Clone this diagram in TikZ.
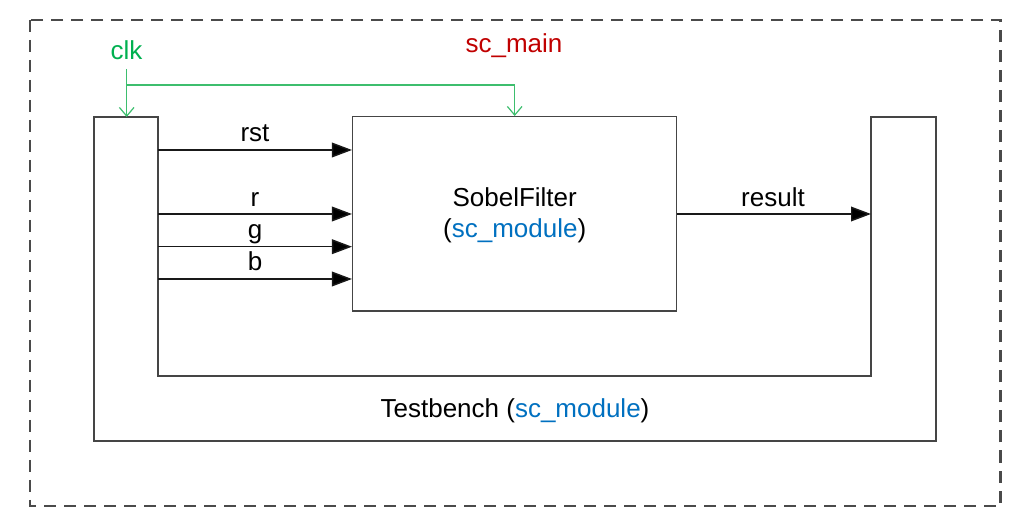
\documentclass[tikz,border=0pt]{standalone}
\usepackage{fontspec}
\setmainfont{Liberation Sans}
\usetikzlibrary{arrows.meta}
\definecolor{boxgray}{HTML}{454545}
\definecolor{dashgray}{HTML}{4A4A4A}
\definecolor{clkgreen}{HTML}{00B050}
\definecolor{clkline}{HTML}{3DBE6E}
\definecolor{mainred}{HTML}{C00000}
\definecolor{modblue}{HTML}{0070C0}
\tikzset{
  boxline/.style={draw=boxgray, line width=1.1pt},
  sig/.style={draw=black!90, line width=1.1pt, -{Triangle[length=15pt,width=11pt,fill=black]}},
  clksig/.style={draw=clkline, line width=0.9pt},
  clkarrow/.style={clksig, -{Straight Barb[length=6.5pt,width=11pt,line width=0.9pt]}},
  lbl/.style={font=\fontsize{19.5}{23}\selectfont, inner sep=0pt, anchor=base},
}
\begin{document}
\begin{tikzpicture}[x=0.75pt,y=-0.75pt]
\useasboundingbox (0,0) rectangle (1022,527);
% outer dashed sc_main frame
\draw[draw=dashgray, line width=1.6pt, dash pattern=on 9pt off 6pt] (30,20) rectangle (1000.5,506);
\node[lbl, text=mainred] (scmain) at (514,53) {sc\_main};
% Testbench U-shape
\coordinate (tbLTL) at (94,117);
\coordinate (tbLTR) at (158,117);
\coordinate (tbIBL) at (158,376);
\coordinate (tbIBR) at (871,376);
\coordinate (tbRTL) at (871,117);
\coordinate (tbRTR) at (936,117);
\coordinate (tbOBR) at (936,441);
\coordinate (tbOBL) at (94,441);
\draw[boxline, line join=miter] (tbLTL) -- (tbLTR) -- (tbIBL) -- (tbIBR) -- (tbRTL) -- (tbRTR) -- (tbOBR) -- (tbOBL) -- cycle;
\node[lbl] (tblabel) at (515,418) {Testbench (\textcolor{modblue}{sc\_module})};
% SobelFilter module
\node[boxline, rectangle, minimum width=243pt, minimum height=145.7pt, inner sep=0pt] (sobel) at (514.7,213.9) {};
\node[lbl] (sobname) at (514.7,207) {SobelFilter};
\node[lbl] (sobtype) at (514.7,238) {(\textcolor{modblue}{sc\_module})};
% port coordinates on testbench left column
\coordinate (prst) at (158,150);
\coordinate (pr) at (158,214);
\coordinate (pg) at (158,246.7);
\coordinate (pb) at (158,279);
\coordinate (pres) at (871,214);
% signals
\draw[sig] (prst) -- (prst -| sobel.west);
\draw[sig] (pr) -- (pr -| sobel.west);
\draw[sig] (pg) -- (pg -| sobel.west);
\draw[sig] (pb) -- (pb -| sobel.west);
\draw[sig] (pres -| sobel.east) -- (pres);
\node[lbl] (lrst) at (255,142) {rst};
\node[lbl] (lr) at (255,206.5) {r};
\node[lbl] (lg) at (255,238.5) {g};
\node[lbl] (lb) at (255,270.5) {b};
\node[lbl] (lres) at (773,206.5) {result};
% clock
\node[lbl, text=clkgreen] (clk) at (126.5,60) {clk};
\coordinate (clkstart) at (126.7,69);
\coordinate (clkbranch) at (126.7,85);
\coordinate (clkin) at (126.7,117);
\draw[clkarrow] (clkstart) -- (clkin);
\draw[clkarrow] (clkbranch) -| (sobel.north);
\end{tikzpicture}
\end{document}
